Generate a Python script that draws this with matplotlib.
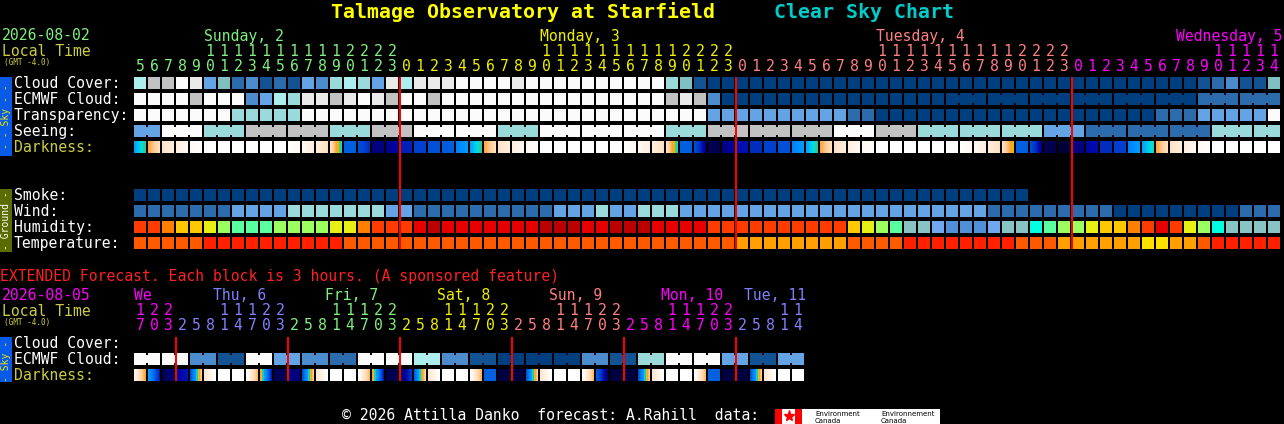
import matplotlib
matplotlib.use("Agg")
import matplotlib.pyplot as plt
from matplotlib.patches import Rectangle
from matplotlib.colors import LinearSegmentedColormap
import numpy as np

# ---------------- values ----------------
title_site = "Talmage Observatory at Starfield"
title_chart = "Clear Sky Chart"

top_date = "2026-08-02"
top_start_hour = 5
top_days = ["Sunday, 2", "Monday, 3", "Tuesday, 4", "Wednesday, 5"]
top_day_colors = ["#80f080", "#f0f000", "#ff8080", "#ff00ff"]

# cloud / transparency / seeing / wind share one scale (0 = dark blue ... 10 = white)
sky_palette = ["#003f7f", "#135393", "#2c6cac", "#4c8ccc", "#64a4e4", "#80c0c0",
               "#9adada", "#adeded", "#c2c2c2", "#eaeaea", "#fbfbfb"]

cloud_cover = [7, 8, 8, 10, 9, 4, 5, 2, 3, 1, 2, 1, 4, 3, 6, 7, 6, 4, 9,
               7, 9, 9, 9, 10, 10, 10, 10, 9, 10, 10, 10, 10, 10, 10, 10, 10, 10, 10, 6, 5, 1, 0, 0,
               0, 0, 0, 0, 0, 0, 0, 0, 0, 0, 0, 0, 0, 0, 0, 0, 0, 0, 0, 0, 0, 0, 0, 0,
               0, 0, 0, 0, 0, 0, 0, 0, 0, 1, 2, 3, 1, 1, 5]

ecmwf_cloud = [10, 10, 10, 10, 8, 10, 10, 10, 3, 4, 7, 6, 9, 9, 8, 9, 10, 9, 8,
               10, 10, 8, 10, 10, 10, 10, 10, 10, 10, 10, 10, 10, 10, 10, 10, 10, 10, 10, 8, 9, 8, 3, 0,
               0, 0, 0, 0, 0, 0, 0, 0, 0, 0, 0, 0, 0, 0, 0, 0, 0, 0, 0, 0, 0, 0, 0, 0,
               0, 0, 0, 0, 0, 0, 0, 0, 0, 2, 2, 2, 2, 2, 2]
ecmwf_3h_from = 58          # from this column the model gives 3-hour steps

transparency = [10, 10, 10, 10, 10, 10, 10, 6, 6, 6, 6, 6, 10, 10, 10, 10, 10, 10, 10,
                10, 10, 10, 10, 10, 10, 10, 10, 10, 10, 10, 10, 10, 10, 10, 10, 10, 10, 10, 10, 10, 10, 4, 4,
                4, 4, 4, 4, 4, 4, 4, 4, 2, 2, 0, 0, 0, 0, 0, 0, 0, 0, 0, 0, 0, 0, 0, 0,
                0, 0, 0, 0, 0, 0, 2, 2, 2, 4, 4, 4, 4, 4, 10]

seeing_first = 2            # first seeing block covers 2 hours, the rest 3 hours
seeing = [4, 10, 6, 8, 8, 6, 8, 10, 10, 6, 10, 10, 10, 6, 8, 8, 8, 10, 8, 6, 6, 6, 4, 2, 2, 2, 6, 6]

# darkness: limiting magnitude at start and end of each hour
dark_scale = [(-4.0, "#ffffff"), (-3.3, "#fff4ea"), (-2.5, "#ffe6cc"), (-1.5, "#ffd09c"),
              (-0.5, "#ffa030"), (0.0, "#e8c000"), (0.35, "#40c080"), (0.8, "#00e0e0"),
              (1.5, "#00a0ff"), (2.5, "#0080ff"), (3.5, "#0060e0"), (3.9, "#0050d8"),
              (4.3, "#0040d0"), (4.7, "#0030c0"), (5.1, "#0010b0"), (5.5, "#0000a0"),
              (5.8, "#000080"), (6.2, "#000050"), (6.5, "#000030")]
darkness = [(1.5, 0.4), (-0.6, -2.2), (-2.3, -2.9), (-3.0, -3.5), (-3.5, -4.0),
            (-4, -4), (-4, -4), (-4, -4), (-4, -4), (-4, -4), (-4, -4),
            (-4.0, -3.5), (-3.5, -3.0), (-2.9, -2.3), (-2.2, 0.8),
            (3.5, 3.5), (3.9, 4.7), (5.8, 5.8), (5.7, 5.4),
            (4.9, 4.9), (4.3, 4.3), (3.9, 3.9), (3.6, 3.5), (2.5, 1.6), (1.5, 0.4),
            (-0.6, -2.2), (-2.3, -2.9), (-3.0, -3.5), (-3.5, -4.0),
            (-4, -4), (-4, -4), (-4, -4), (-4, -4), (-4, -4), (-4, -4),
            (-4.0, -3.5), (-3.5, -3.0), (-2.9, -2.3), (-2.2, 0.8),
            (3.5, 3.5), (3.9, 5.6), (6.2, 6.2), (5.8, 5.5),
            (5.1, 5.1), (4.7, 4.7), (4.3, 4.3), (3.9, 3.9), (2.5, 1.6), (1.5, 0.4),
            (-0.6, -2.2), (-2.3, -2.9), (-3.0, -3.5), (-3.5, -4.0),
            (-4, -4), (-4, -4), (-4, -4), (-4, -4), (-4, -4), (-4, -4),
            (-4.0, -3.5), (-3.5, -3.0), (-2.9, -2.3), (-2.2, 0.0),
            (3.5, 3.5), (3.9, 5.6), (6.2, 6.2), (6.4, 6.4),
            (5.8, 5.8), (5.3, 5.2), (4.7, 4.7), (4.3, 4.3), (2.5, 1.6), (1.5, 0.6),
            (-0.6, -2.2), (-2.3, -2.9), (-3.0, -3.5), (-3.5, -4.0),
            (-4, -4), (-4, -4), (-4, -4), (-4, -4), (-4, -4)]

smoke = [0] * 64            # no smoke forecast, data stops after 64 hours

wind = [2, 2, 2, 2, 2, 2, 2, 4, 4, 4, 4, 6, 6, 6, 6, 6, 6, 6, 4,
        4, 2, 2, 2, 2, 2, 2, 2, 2, 2, 2, 4, 4, 4, 6, 4, 4, 6, 6, 6, 4, 4, 4, 4,
        4, 4, 4, 4, 4, 4, 4, 4, 4, 4, 4, 4, 4, 4, 4, 4, 4, 4, 2, 2, 2, 2, 2, 2,
        2, 2, 2, 0, 0, 0, 0, 0, 0, 0, 0, 0, 2, 2, 2]

hum_palette = ["#003f7f", "#5090d8", "#70a8f0", "#88c4c4", "#00ffe0", "#5affa0", "#9cff60",
               "#e6f014", "#ffc800", "#ff8000", "#ff3c00", "#e60000", "#bb0000"]
humidity = [10, 10, 9, 8, 8, 7, 6, 5, 5, 5, 6, 6, 6, 6, 7, 7, 9, 10, 10,
            10, 11, 12, 11, 11, 11, 11, 11, 11, 11, 12, 12, 12, 11, 11, 12, 12, 12, 11, 11, 11, 11, 10, 10,
            10, 10, 10, 10, 10, 10, 10, 10, 8, 7, 6, 5, 3, 3, 2, 1, 1, 1, 2, 3, 3, 4, 5, 6,
            6, 7, 8, 8, 9, 10, 11, 10, 7, 6, 4, 3, 3, 3, 3]

temp_palette = ["#ffe000", "#ffa000", "#ff5a00", "#ff2000"]
temperature = [2, 2, 2, 2, 2, 3, 3, 3, 3, 3, 3, 3, 3, 3, 3, 2, 2, 2, 2,
               2, 2, 2, 2, 2, 2, 2, 2, 2, 2, 2, 2, 2, 2, 2, 2, 2, 2, 2, 2, 2, 2, 2, 2,
               1, 1, 1, 1, 1, 1, 1, 1, 2, 2, 2, 2, 3, 3, 3, 3, 3, 3, 3, 3, 2, 2, 2, 1,
               1, 1, 1, 1, 1, 0, 0, 1, 1, 2, 3, 3, 3, 3, 3]

# extended forecast (3-hour blocks)
ext_date = "2026-08-05"
ext_start_hour = 17
ext_days = ["We", "Thu, 6", "Fri, 7", "Sat, 8", "Sun, 9", "Mon, 10", "Tue, 11"]
ext_day_colors = ["#ff00ff", "#8080ff", "#80f080", "#f0f000", "#ff8080", "#ff00ff", "#8080ff"]
ext_ecmwf = [10, 10, 3, 1, 10, 4, 3, 2, 10, 10, 7, 3, 1, 0, 0, 0, 3, 1, 6, 10, 10, 4, 1, 4]  # 6-hour pairs
ext_darkness = [(-3.5, -0.5), (1.5, 5.0), (6.2, 5.8),
                (5.5, 5.0), (4.0, -1.5), (-2.5, -4), (-4, -4), (-4, -4), (-4, -1.0), (-0.5, 5.0), (6.1, 6.1),
                (5.8, 5.8), (4.0, -1.5), (-2.5, -4), (-4, -4), (-4, -4), (-4, -1.0), (-0.5, 5.0), (6.2, 6.2),
                (6.2, 4.5), (3.5, -1.8), (-2.5, -4), (-4, -4), (-4, -4), (-4, -0.8), (3.5, 3.5), (6.3, 6.3),
                (6.3, 6.3), (3.9, -1.5), (-2.5, -4), (-4, -4), (-4, -4), (-4, -1.0), (3.5, 6.0), (6.3, 6.3),
                (6.3, 6.3), (4.0, -1.5), (-2.5, -4), (-4, -4), (-4, -4), (-4, -1.0), (3.5, 3.5), (6.3, 6.3),
                (6.3, 6.3), (4.0, -1.5), (-2.5, -4), (-4, -4), (-4, -4)]

footer = "\u00a9 2026 Attilla Danko  forecast: A.Rahill  data:"

# ---------------- layout ----------------
W, H = 1284, 424
X0, STEP, BW = 134, 14, 12
SKY_TOP, GROUND_TOP, EXT_TOP, ROW = 77, 189, 337, 16
MONO = "DejaVu Sans Mono"
FS = 10.6
LABEL_YEL = "#cccc40"

fig = plt.figure(figsize=(W / 100, H / 100), dpi=100, facecolor="black")
ax = fig.add_axes([0, 0, 1, 1])
ax.set_facecolor("black")


def col_x(i):
    return X0 + STEP * i


def block(x, y, color, w=BW, h=BW):
    ax.add_patch(Rectangle((x, y), w, h, facecolor=color, edgecolor="none",
                           antialiased=False, zorder=2))


def grouped_row(y, values, sizes, palette, start=0):
    i = start
    for v, n in zip(values, sizes):
        for k in range(n):
            block(col_x(i + k), y, palette[v])
            if k < n - 1:
                block(col_x(i + k) + BW, y + 2, palette[v], w=STEP - BW, h=BW - 4)
        i += n


def text(x, y, s, color, size=FS, **kw):
    ax.text(x, y, s, color=color, fontsize=size, family=MONO, va="baseline", ha="left", **kw)


MAG_LO, MAG_HI = dark_scale[0][0], dark_scale[-1][0]
dark_cmap = LinearSegmentedColormap.from_list(
    "darkness", [((m - MAG_LO) / (MAG_HI - MAG_LO), c) for m, c in dark_scale])


def dark_row(y, pairs):
    for i, (a, b) in enumerate(pairs):
        x = col_x(i)
        vals = np.linspace(a, b, BW)
        rgb = dark_cmap((vals - MAG_LO) / (MAG_HI - MAG_LO))[:, :3]
        ax.imshow(rgb[None], extent=(x, x + BW, y + BW, y), interpolation="nearest",
                  aspect="auto", zorder=2)


def hour_header(hours, day_names, day_colors, y_day, y_tens, y_units, day_anchor, day_shift, grid_end):
    day = -1
    first_col = []
    anchor_col = {}
    prev = None
    for i, h in enumerate(hours):
        if prev is None or h < prev:
            day += 1
            first_col.append(i)
        prev = h
        if h >= day_anchor and day not in anchor_col:
            anchor_col[day] = i
        cx = col_x(i) + BW / 2
        s = "%d" % h
        if h >= 10:
            ax.text(cx, y_tens, s[0], color=day_colors[day], fontsize=FS, family=MONO,
                    ha="center", va="baseline")
        ax.text(cx, y_units, s[-1], color=day_colors[day], fontsize=FS, family=MONO,
                ha="center", va="baseline")
    for d, name in enumerate(day_names):
        x = col_x(anchor_col.get(d, first_col[d])) + day_shift
        x = max(x, col_x(first_col[d]))
        x = min(x, grid_end - len(name) * 8.86)
        text(x, y_day, name, day_colors[d])
    return first_col


# ---------------- header ----------------
ax.text(331, 18, title_site, color="#ffff00", fontsize=14.3, family=MONO,
        fontweight="bold", va="baseline", ha="left")
ax.text(774, 18, title_chart, color="#00cccc", fontsize=14.3, family=MONO,
        fontweight="bold", va="baseline", ha="left")

top_hours = [(top_start_hour + i) % 24 for i in range(len(cloud_cover))]
top_midnights = hour_header(top_hours, top_days, top_day_colors, 40.5, 55.5, 71,
                            10, 0, col_x(len(top_hours)))[1:]
text(2, 40.5, top_date, top_day_colors[0])
text(2, 56, "Local Time", LABEL_YEL)
text(4, 65, "(GMT -4.0)", LABEL_YEL, size=5.5)

# ---------------- sky rows ----------------
sky_labels = ["Cloud Cover:", "ECMWF Cloud:", "Transparency:", "Seeing:", "Darkness:"]
for k, lab in enumerate(sky_labels):
    text(14, SKY_TOP + ROW * k + 10.8, lab, LABEL_YEL if lab == "Darkness:" else "white")

grouped_row(SKY_TOP, cloud_cover, [1] * len(cloud_cover), sky_palette)
n3 = (len(ecmwf_cloud) - ecmwf_3h_from) // 3
grouped_row(SKY_TOP + ROW, ecmwf_cloud[:ecmwf_3h_from], [1] * ecmwf_3h_from, sky_palette)
grouped_row(SKY_TOP + ROW, ecmwf_cloud[ecmwf_3h_from::3], [3] * n3, sky_palette, start=ecmwf_3h_from)
grouped_row(SKY_TOP + 2 * ROW, transparency, [1] * len(transparency), sky_palette)
see_sizes = [seeing_first] + [3] * (len(seeing) - 2)
see_sizes.append(len(cloud_cover) - sum(see_sizes))
grouped_row(SKY_TOP + 3 * ROW, seeing, see_sizes, sky_palette)
dark_row(SKY_TOP + 4 * ROW, darkness)

# ---------------- ground rows ----------------
ground_labels = ["Smoke:", "Wind:", "Humidity:", "Temperature:"]
for k, lab in enumerate(ground_labels):
    text(14, GROUND_TOP + ROW * k + 10.8, lab, "white")
grouped_row(GROUND_TOP, smoke, [1] * len(smoke), sky_palette)
grouped_row(GROUND_TOP + ROW, wind, [1] * len(wind), sky_palette)
grouped_row(GROUND_TOP + 2 * ROW, humidity, [1] * len(humidity), hum_palette)
grouped_row(GROUND_TOP + 3 * ROW, temperature, [1] * len(temperature), temp_palette)

for c in top_midnights:
    block(col_x(c) - 1.3, SKY_TOP, "#ff0000", w=2.6, h=GROUND_TOP + 4 * ROW - SKY_TOP - 4)

# side bars
block(0, SKY_TOP, "#0a5ae8", w=12, h=5 * ROW - 1)
ax.text(6, SKY_TOP + 5 * ROW / 2, "- - Sky - -", color="#e8e800", fontsize=7, family=MONO,
        rotation=90, ha="center", va="center", zorder=3)
block(0, GROUND_TOP, "#5a6b00", w=12, h=4 * ROW - 1)
ax.text(6, GROUND_TOP + 2 * ROW, "- Ground -", color="white", fontsize=7, family=MONO,
        rotation=90, ha="center", va="center", zorder=3)

# ---------------- extended forecast ----------------
text(0, 281.5, "EXTENDED Forecast. Each block is 3 hours. (A sponsored feature)", "#ff2020")
ext_hours = [(ext_start_hour + 3 * i) % 24 for i in range(len(ext_darkness))]
ext_midnights = hour_header(ext_hours, ext_days, ext_day_colors, 300, 315, 330.5,
                            11, -5, col_x(len(ext_hours)))[1:]
text(2, 300, ext_date, ext_day_colors[0])
text(2, 316, "Local Time", LABEL_YEL)
text(4, 324.5, "(GMT -4.0)", LABEL_YEL, size=5.5)

ext_labels = ["Cloud Cover:", "ECMWF Cloud:", "Darkness:"]
for k, lab in enumerate(ext_labels):
    text(14, EXT_TOP + ROW * k + 10.5, lab, LABEL_YEL if lab == "Darkness:" else "white")
grouped_row(EXT_TOP + ROW, ext_ecmwf, [2] * len(ext_ecmwf), sky_palette)
dark_row(EXT_TOP + 2 * ROW, ext_darkness)
for c in ext_midnights:
    block(col_x(c) - 1.3, EXT_TOP, "#ff0000", w=2.6, h=3 * ROW - 4)

block(0, EXT_TOP, "#0a5ae8", w=12, h=3 * ROW - 3)
ax.text(6, EXT_TOP + 1.5 * ROW, "- Sky -", color="#e8e800", fontsize=7, family=MONO,
        rotation=90, ha="center", va="center", zorder=3)

# ---------------- footer ----------------
text(342, 420, footer, "white")
block(775, 409, "#ff0000", w=7, h=15)
block(782, 409, "#ffffff", w=13, h=15)
block(795, 409, "#ff0000", w=7, h=15)
ax.plot([788.5], [416], marker="*", color="#ff0000", markersize=8, zorder=3)
block(802, 409, "#ffffff", w=138, h=15)
for x0, word in [(815, "Environment"), (881, "Environnement")]:
    ax.text(x0, 414.5, word, color="black", fontsize=5, family="DejaVu Sans", va="center", zorder=3)
    ax.text(x0, 421, "Canada", color="black", fontsize=5, family="DejaVu Sans", va="center", zorder=3)

ax.set_xlim(0, W)
ax.set_ylim(H, 0)
ax.axis("off")
fig.savefig("out.png", dpi=100, facecolor="black")
